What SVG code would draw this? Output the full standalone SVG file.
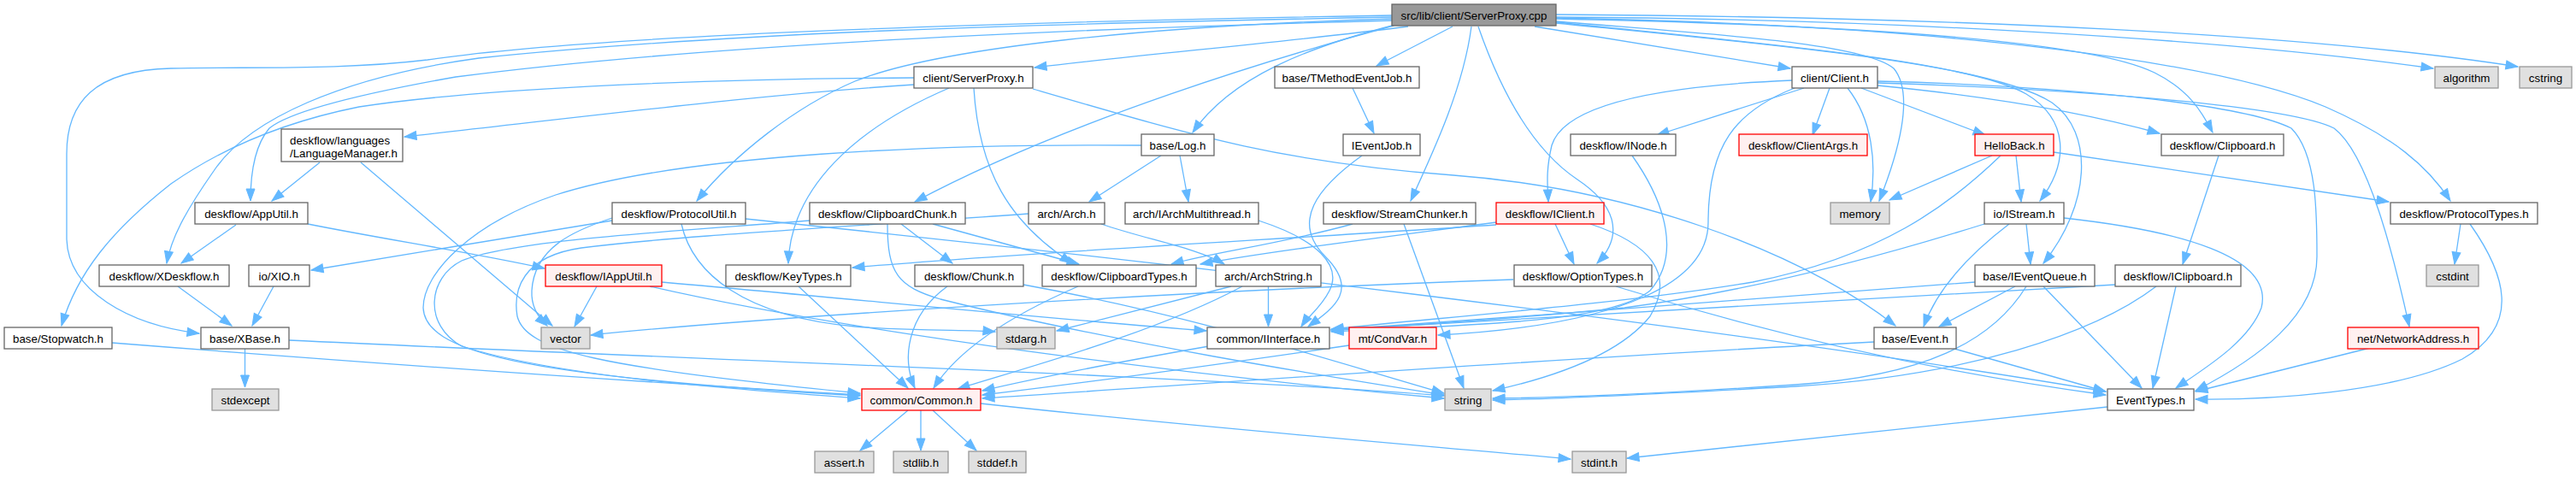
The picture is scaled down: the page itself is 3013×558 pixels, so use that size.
<svg xmlns="http://www.w3.org/2000/svg" width="3013" height="558" viewBox="0 0 3013 558">
<style>
.n rect{fill:#fff;stroke:#666;stroke-width:1.3}
.r rect{fill:#fff0f0;stroke:#f00;stroke-width:1.3}
.g rect{fill:#e0e0e0;stroke:#999;stroke-width:1.3}
.root rect{fill:#999;stroke:#666;stroke-width:1.3}
text{font-family:"Liberation Sans",Arial,sans-serif;font-size:13.33px;fill:#000;text-anchor:middle}
text.l{text-anchor:start}
#edges path{fill:none;stroke:#63b8ff;stroke-width:1.3;marker-end:url(#a)}
</style>
<defs>
<marker id="a" markerUnits="userSpaceOnUse" markerWidth="14" markerHeight="10" refX="14" refY="5" orient="auto" overflow="visible">
<path d="M0,0 L14,5 L0,10 z" fill="#63b8ff" stroke="#63b8ff" stroke-width="1"/>
</marker>
</defs>
<rect width="3013" height="558" fill="#fff"/>
<g id="edges">
<path d="M1647,31 C1500,50 1330,64 1210,79"/>
<path d="M1699,31 L1610,77"/>
<path d="M1795,31 L2094,80"/>
<path d="M1820,20 C2200,22 2600,45 2846,80"/>
<path d="M1820,17 C2300,20 2700,40 2945,78"/>
<path d="M1632,29 C1530,55 1440,90 1395,155"/>
<path d="M1630,30 C1500,65 1250,140 1070,236"/>
<path d="M1628,22 C1350,30 1100,55 1000,95 C930,125 860,180 815,235"/>
<path d="M1628,24 C1200,35 800,55 533,90 C420,110 340,130 315,150 C298,170 293,200 293,235"/>
<path d="M1628,20 C1200,28 850,38 560,68 C400,90 290,140 250,200 C215,250 200,280 195,308"/>
<path d="M1628,18 C1200,25 700,40 500,70 C400,82 300,78 200,80 C110,82 78,120 78,180 L78,280 C80,340 150,380 233,390"/>
<path d="M1721,31 C1712,100 1680,170 1650,235"/>
<path d="M1729,31 C1760,120 1800,180 1845,210 C1890,240 1900,275 1868,308"/>
<path d="M1820,25 C2000,40 2180,50 2215,80 C2240,110 2220,180 2198,235"/>
<path d="M1820,26 C2050,50 2300,70 2370,110 C2420,140 2420,190 2386,235"/>
<path d="M1820,27 C2100,55 2330,75 2400,120 C2450,155 2445,240 2390,308"/>
<path d="M1820,22 C2200,30 2450,50 2520,85 C2560,105 2575,130 2588,155"/>
<path d="M1820,21 C2300,30 2600,75 2720,125 C2800,160 2840,195 2866,235"/>
<path d="M1069,99 C900,110 740,130 473,160"/>
<path d="M1069,91 C800,92 550,105 420,125 C320,145 250,180 200,215 C130,270 90,320 72,381"/>
<path d="M1110,103 C1000,150 925,220 922,308"/>
<path d="M1139,103 C1145,200 1180,260 1254,308"/>
<path d="M1208,104 C1400,160 1500,190 1700,205 C1900,220 2100,290 2217,381"/>
<path d="M374,190 L318,235"/>
<path d="M422,190 L646,381"/>
<path d="M276,263 L212,308"/>
<path d="M360,262 C450,280 550,295 637,314"/>
<path d="M208,335 L271,381"/>
<path d="M320,335 L295,381"/>
<path d="M286.5,408 L286.5,453"/>
<path d="M338,398 C800,420 1400,440 1689,463"/>
<path d="M131,401 C500,430 800,450 1006,462"/>
<path d="M716,258 L364,316"/>
<path d="M716,255 C670,270 625,290 622,340 C621,360 630,372 640,381"/>
<path d="M797,262 C810,320 870,370 1000,382 C1080,388 1130,385 1164,388"/>
<path d="M872,256 C1300,300 2000,380 2463,458"/>
<path d="M1054,262 L1114,308"/>
<path d="M1091,262 L1262,309"/>
<path d="M1038,262 C1038,320 1050,335 1100,350 C1300,400 1550,440 1689,462"/>
<path d="M948,258 C800,270 600,280 540,305 C500,325 495,380 540,405 C650,440 850,455 1006,466"/>
<path d="M1203,250 C1000,265 800,275 680,290 C610,300 600,340 605,370 C615,410 700,430 1006,460"/>
<path d="M1335,170 C1100,168 800,180 650,228 C550,262 495,320 495,360 C497,410 600,440 1006,463"/>
<path d="M1358,182 L1274,236"/>
<path d="M1380,182 L1390,236"/>
<path d="M1288,262 C1340,280 1400,290 1432,309"/>
<path d="M1472,258 C1540,280 1570,310 1555,340 C1545,360 1530,370 1522,382"/>
<path d="M1582,103 L1607,156"/>
<path d="M1593,182 C1540,220 1510,260 1550,300 C1590,340 1560,360 1530,382"/>
<path d="M1483.5,335 L1483.5,382"/>
<path d="M1440,335 L1236,387"/>
<path d="M1453,335 C1350,390 1200,430 1120,455"/>
<path d="M1582,262 C1500,285 1420,295 1370,309"/>
<path d="M1642,262 L1712,454"/>
<path d="M1750,260 C1600,280 1480,295 1404,309"/>
<path d="M1750,263 C1500,280 1200,295 997,313"/>
<path d="M1819,262 L1841,309"/>
<path d="M1860,262 C1930,285 1960,320 1930,370 C1890,420 1800,445 1746,457"/>
<path d="M1909,182 C1950,240 1965,300 1930,340 C1880,380 1700,380 1557,388"/>
<path d="M2096,94 C1950,100 1830,120 1815,170 C1808,200 1810,215 1811,236"/>
<path d="M2110,103 L1938,158"/>
<path d="M2140,103 L2120,158"/>
<path d="M2161,103 C2190,140 2195,190 2188,236"/>
<path d="M2177,103 L2322,158"/>
<path d="M2099,103 C2030,130 1998,170 1998,260 C1998,330 1900,380 1682,392"/>
<path d="M2196,100 C2350,115 2450,135 2526,156"/>
<path d="M2196,95 C2400,100 2620,120 2680,150 C2710,180 2710,250 2710,300 C2710,370 2640,420 2568,457"/>
<path d="M2196,97 C2450,105 2680,125 2730,150 C2770,180 2800,300 2818,382"/>
<path d="M2402,178 L2794,236"/>
<path d="M2330,182 L2210,234"/>
<path d="M2358,182 L2364,236"/>
<path d="M2340,182 C2280,240 2200,300 2050,330 C1900,355 1700,370 1557,385"/>
<path d="M2321,262 C2200,300 2050,340 1900,360 C1750,375 1650,380 1557,387"/>
<path d="M2350,262 C2300,300 2265,340 2250,382"/>
<path d="M2370,262 L2375,309"/>
<path d="M2414,255 C2550,270 2660,300 2645,360 C2630,400 2580,430 2545,454"/>
<path d="M2357,335 L2268,382"/>
<path d="M2310,330 C2100,345 1800,370 1557,386"/>
<path d="M2370,335 C2330,400 2250,440 2100,450 C1950,460 1850,465 1746,466"/>
<path d="M2390,335 L2505,454"/>
<path d="M2474,333 C2200,350 1800,370 1557,386"/>
<path d="M2522,335 C2450,390 2300,440 2100,452 C1950,460 1850,466 1746,468"/>
<path d="M2545,335 L2518,454"/>
<path d="M2595,182 L2553,309"/>
<path d="M2192,400 C1800,420 1400,450 1149,466"/>
<path d="M2286,408 L2463,458"/>
<path d="M1578,404 C1400,430 1250,450 1149,462"/>
<path d="M1414,405 C1300,425 1200,445 1149,457"/>
<path d="M934,335 L1062,454"/>
<path d="M1108,335 C1060,370 1055,420 1070,454"/>
<path d="M1197,333 C1400,370 1550,420 1689,460"/>
<path d="M1261,335 C1180,370 1120,410 1092,454"/>
<path d="M698,335 L672,382"/>
<path d="M774,330 C1000,350 1250,375 1411,387"/>
<path d="M760,335 C1000,390 1400,440 1689,466"/>
<path d="M1770,327 C1400,340 900,370 691,392"/>
<path d="M1890,335 C2100,400 2300,440 2463,462"/>
<path d="M2772,407 L2568,458"/>
<path d="M2878,262 L2871,309"/>
<path d="M2889,262 C2930,320 2950,380 2880,420 C2800,460 2650,468 2568,467"/>
<path d="M2465,476 C2250,500 2050,520 1903,536"/>
<path d="M1147,472 C1400,500 1650,520 1837,537"/>
<path d="M1062,480 L1006,527"/>
<path d="M1077,480 L1077,527"/>
<path d="M1091,480 L1142,527"/>
</g>
<g id="n_cpp" class="root"><rect x="1628" y="5" width="192" height="25"/><text x="1724" y="22.5">src/lib/client/ServerProxy.cpp</text></g>
<g id="n_serverproxy_h" class="n"><rect x="1069" y="78" width="139" height="25"/><text x="1138.5" y="95.5">client/ServerProxy.h</text></g>
<g id="n_tmethodeventjob" class="n"><rect x="1491" y="78" width="169" height="25"/><text x="1575.5" y="95.5">base/TMethodEventJob.h</text></g>
<g id="n_client" class="n"><rect x="2096" y="78" width="100" height="25"/><text x="2146" y="95.5">client/Client.h</text></g>
<g id="n_algorithm" class="g"><rect x="2848" y="78" width="74" height="25"/><text x="2885" y="95.5">algorithm</text></g>
<g id="n_cstring" class="g"><rect x="2947" y="78" width="61" height="25"/><text x="2977.5" y="95.5">cstring</text></g>
<g id="n_languagemanager" class="n"><rect x="329" y="151" width="142" height="38"/><text class="l" x="339" y="168.5">deskflow/languages</text><text class="l" x="339" y="183.5">/LanguageManager.h</text></g>
<g id="n_log" class="n"><rect x="1335" y="157" width="85" height="25"/><text x="1377.5" y="174.5">base/Log.h</text></g>
<g id="n_ieventjob" class="n"><rect x="1571" y="157" width="90" height="25"/><text x="1616" y="174.5">IEventJob.h</text></g>
<g id="n_inode" class="n"><rect x="1837" y="157" width="123" height="25"/><text x="1898.5" y="174.5">deskflow/INode.h</text></g>
<g id="n_clientargs" class="r"><rect x="2034" y="157" width="150" height="25"/><text x="2109" y="174.5">deskflow/ClientArgs.h</text></g>
<g id="n_helloback" class="r"><rect x="2310" y="157" width="92" height="25"/><text x="2356" y="174.5">HelloBack.h</text></g>
<g id="n_clipboard" class="n"><rect x="2528" y="157" width="143" height="25"/><text x="2599.5" y="174.5">deskflow/Clipboard.h</text></g>
<g id="n_apputil" class="n"><rect x="228" y="237" width="132" height="25"/><text x="294" y="254.5">deskflow/AppUtil.h</text></g>
<g id="n_protocolutil" class="n"><rect x="716" y="237" width="156" height="25"/><text x="794" y="254.5">deskflow/ProtocolUtil.h</text></g>
<g id="n_clipboardchunk" class="n"><rect x="947" y="237" width="182" height="25"/><text x="1038" y="254.5">deskflow/ClipboardChunk.h</text></g>
<g id="n_arch" class="n"><rect x="1203" y="237" width="89" height="25"/><text x="1247.5" y="254.5">arch/Arch.h</text></g>
<g id="n_iarchmultithread" class="n"><rect x="1316" y="237" width="156" height="25"/><text x="1394" y="254.5">arch/IArchMultithread.h</text></g>
<g id="n_streamchunker" class="n"><rect x="1548" y="237" width="178" height="25"/><text x="1637" y="254.5">deskflow/StreamChunker.h</text></g>
<g id="n_iclient" class="r"><rect x="1750" y="237" width="126" height="25"/><text x="1813" y="254.5">deskflow/IClient.h</text></g>
<g id="n_memory" class="g"><rect x="2141" y="237" width="69" height="25"/><text x="2175.5" y="254.5">memory</text></g>
<g id="n_istream" class="n"><rect x="2321" y="237" width="93" height="25"/><text x="2367.5" y="254.5">io/IStream.h</text></g>
<g id="n_protocoltypes" class="n"><rect x="2796" y="237" width="172" height="25"/><text x="2882" y="254.5">deskflow/ProtocolTypes.h</text></g>
<g id="n_xdeskflow" class="n"><rect x="116" y="310" width="152" height="25"/><text x="192" y="327.5">deskflow/XDeskflow.h</text></g>
<g id="n_xio" class="n"><rect x="291" y="310" width="71" height="25"/><text x="326.5" y="327.5">io/XIO.h</text></g>
<g id="n_iapputil" class="r"><rect x="638" y="310" width="136" height="25"/><text x="706" y="327.5">deskflow/IAppUtil.h</text></g>
<g id="n_keytypes" class="n"><rect x="849" y="310" width="146" height="25"/><text x="922" y="327.5">deskflow/KeyTypes.h</text></g>
<g id="n_chunk" class="n"><rect x="1070" y="310" width="127" height="25"/><text x="1133.5" y="327.5">deskflow/Chunk.h</text></g>
<g id="n_clipboardtypes" class="n"><rect x="1219" y="310" width="180" height="25"/><text x="1309" y="327.5">deskflow/ClipboardTypes.h</text></g>
<g id="n_archstring" class="n"><rect x="1422" y="310" width="123" height="25"/><text x="1483.5" y="327.5">arch/ArchString.h</text></g>
<g id="n_optiontypes" class="n"><rect x="1771" y="310" width="161" height="25"/><text x="1851.5" y="327.5">deskflow/OptionTypes.h</text></g>
<g id="n_ieventqueue" class="n"><rect x="2310" y="310" width="140" height="25"/><text x="2380" y="327.5">base/IEventQueue.h</text></g>
<g id="n_iclipboard" class="n"><rect x="2474" y="310" width="147" height="25"/><text x="2547.5" y="327.5">deskflow/IClipboard.h</text></g>
<g id="n_cstdint" class="g"><rect x="2838" y="310" width="61" height="25"/><text x="2868.5" y="327.5">cstdint</text></g>
<g id="n_stopwatch" class="n"><rect x="5" y="383" width="126" height="25"/><text x="68" y="400.5">base/Stopwatch.h</text></g>
<g id="n_xbase" class="n"><rect x="235" y="383" width="103" height="25"/><text x="286.5" y="400.5">base/XBase.h</text></g>
<g id="n_vector" class="g"><rect x="633" y="383" width="57" height="25"/><text x="661.5" y="400.5">vector</text></g>
<g id="n_stdarg" class="g"><rect x="1166" y="383" width="68" height="25"/><text x="1200" y="400.5">stdarg.h</text></g>
<g id="n_iinterface" class="n"><rect x="1412" y="383" width="143" height="25"/><text x="1483.5" y="400.5">common/IInterface.h</text></g>
<g id="n_condvar" class="r"><rect x="1578" y="383" width="102" height="25"/><text x="1629" y="400.5">mt/CondVar.h</text></g>
<g id="n_event" class="n"><rect x="2192" y="383" width="96" height="25"/><text x="2240" y="400.5">base/Event.h</text></g>
<g id="n_networkaddress" class="r"><rect x="2746" y="383" width="153" height="25"/><text x="2822.5" y="400.5">net/NetworkAddress.h</text></g>
<g id="n_stdexcept" class="g"><rect x="248" y="455" width="78" height="25"/><text x="287" y="472.5">stdexcept</text></g>
<g id="n_common" class="r"><rect x="1008" y="455" width="139" height="25"/><text x="1077.5" y="472.5">common/Common.h</text></g>
<g id="n_string" class="g"><rect x="1690" y="455" width="54" height="25"/><text x="1717" y="472.5">string</text></g>
<g id="n_eventtypes" class="n"><rect x="2465" y="455" width="101" height="25"/><text x="2515.5" y="472.5">EventTypes.h</text></g>
<g id="n_assert" class="g"><rect x="953" y="528" width="69" height="25"/><text x="987.5" y="545.5">assert.h</text></g>
<g id="n_stdlib" class="g"><rect x="1045" y="528" width="64" height="25"/><text x="1077" y="545.5">stdlib.h</text></g>
<g id="n_stddef" class="g"><rect x="1133" y="528" width="67" height="25"/><text x="1166.5" y="545.5">stddef.h</text></g>
<g id="n_stdint" class="g"><rect x="1839" y="528" width="63" height="25"/><text x="1870.5" y="545.5">stdint.h</text></g>
</svg>
